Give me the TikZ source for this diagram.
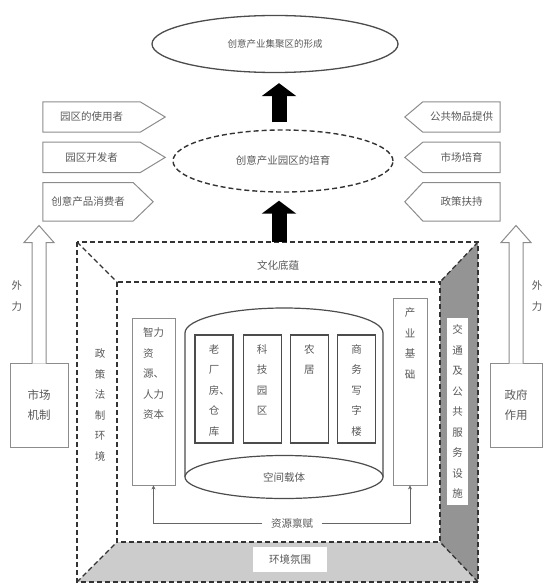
\documentclass[tikz,border=0pt]{standalone}
\usepackage{fontspec}
\newfontfamily\cjk{Noto Sans CJK SC}
\usetikzlibrary{positioning,arrows.meta,shapes.geometric}

\begin{document}
\begin{tikzpicture}[x=1pt,y=-1pt,
  lbl/.style={font=\cjk\fontsize{10.5}{13}\selectfont, text=black!65, inner sep=1pt},
  vlbl/.style={font=\cjk\fontsize{10.5}{20.5}\selectfont, text=black!65, align=center, inner sep=0pt},
  oval/.style={ellipse, draw=black!70, line width=1.3pt, inner sep=0pt},
  tag/.style={lbl, minimum height=30pt, inner sep=0pt},
  tagline/.style={draw=black!45, line width=1pt},
  side/.style={font=\cjk\fontsize{11.5}{20}\selectfont, text=black!65, align=center, draw=black!45, line width=1pt, minimum height=84pt},
  cell/.style={draw=black!70, line width=1.2pt, minimum width=38pt, minimum height=108pt, inner sep=0pt},
  col/.style={draw=black!45, line width=0.9pt, inner sep=0pt},
  framedash/.style={draw=black!80, line width=1.3pt, dash pattern=on 5pt off 3pt},
  bigarr/.style={line width=15pt, -{Triangle[width=34pt,length=13pt]}, black},
  hollow/.style={draw=black!45, line width=1pt, fill=white},
  arr/.style={-{Stealth[length=4pt,width=4pt]}, draw=black!60, line width=0.8pt}
]
\useasboundingbox (0,0) rectangle (545,585);

% outer and inner frame
\coordinate (otl) at (77,242);
\coordinate (otr) at (478,242);
\coordinate (obr) at (478,582);
\coordinate (obl) at (77,582);
\coordinate (itl) at (117,282);
\coordinate (itr) at (440,282);
\coordinate (ibr) at (440,542);
\coordinate (ibl) at (117,542);
\fill[black!20] (obl) -- (obr) -- (ibr) -- (ibl) -- cycle;
\fill[black!42] (otr) -- (obr) -- (ibr) -- (itr) -- cycle;
\draw[framedash] (otl) rectangle (obr);
\draw[framedash] (itl) rectangle (ibr);
\draw[framedash] (otl) -- (itl);
\draw[framedash] (otr) -- (itr);
\draw[framedash] (obr) -- (ibr);
\draw[framedash] (obl) -- (ibl);

\node[lbl] (culture) at (278,265) {文化底蕴};
\node[vlbl] (law) at (100,405) {政\\策\\法\\制\\环\\境};
\node[vlbl, fill=white, minimum width=21pt, minimum height=187pt] (traffic) at (457.5,411.5) {交\\通\\及\\公\\共\\服\\务\\设\\施};
\node[lbl, fill=white, minimum width=74pt, minimum height=25pt] (ambience) at (290,559.5) {环境氛围};

% top ellipses
\node[oval, lbl, font=\cjk\fontsize{9.5}{12}\selectfont, inner sep=0pt, minimum width=246pt, minimum height=57pt] (form) at (275,44) {创意产业集聚区的形成};
\node[oval, lbl, inner sep=0pt, draw=black!80, line width=1.4pt, dash pattern=on 5pt off 3pt, minimum width=220pt, minimum height=62pt] (nurture) at (283,161) {创意产业园区的培育};
\coordinate (mid) at (279,0);
\draw[bigarr, shorten <=7pt, shorten >=10pt] (nurture.north -| mid) -- (form.south -| mid);
\draw[bigarr, shorten >=8pt] (otl -| mid) -- (nurture.south -| mid);

% left tags
\node[tag, minimum width=97pt] (user) at (91.5,117) {园区的使用者};
\node[tag, minimum width=97pt, below=10pt of user] (dev) {园区开发者};
\node[tag, minimum width=90pt, minimum height=38pt, below=10pt of dev.south west, anchor=north west] (buyer) {创意产品消费者};
\draw[tagline] (user.north west) -- (user.north east) -- ([xshift=25pt]user.east) -- (user.south east) -- (user.south west) -- cycle;
\draw[tagline] (dev.north west) -- (dev.north east) -- ([xshift=25pt]dev.east) -- (dev.south east) -- (dev.south west) -- cycle;
\draw[tagline] (buyer.north west) -- (buyer.north east) -- ([xshift=20pt]buyer.east) -- (buyer.south east) -- (buyer.south west) -- cycle;

% right tags
\node[tag, minimum width=77pt] (goods) at (461.5,117) {公共物品提供};
\node[tag, minimum width=77pt, below=10pt of goods] (market) {市场培育};
\node[tag, minimum width=77pt, minimum height=38pt, below=10pt of market] (policy) {政策扶持};
\draw[tagline] (goods.north east) -- (goods.north west) -- ([xshift=-18pt]goods.west) -- (goods.south west) -- (goods.south east) -- cycle;
\draw[tagline] (market.north east) -- (market.north west) -- ([xshift=-18pt]market.west) -- (market.south west) -- (market.south east) -- cycle;
\draw[tagline] (policy.north east) -- (policy.north west) -- ([xshift=-18pt]policy.west) -- (policy.south west) -- (policy.south east) -- cycle;

% outside forces
\node[side, minimum width=58pt] (mkt) at (39,405) {市场\\机制};
\node[side, minimum width=52pt] (gov) at (516,405) {政府\\作用};
\draw[hollow] ([xshift=-7pt,yshift=-1pt]mkt.north) -- ++(0,-121) -- ++(-8,0) -- ++(15,-17) -- ++(15,17) -- ++(-8,0) -- ([xshift=7pt,yshift=-1pt]mkt.north);
\draw[hollow] ([xshift=-7pt,yshift=-1pt]gov.north) -- ++(0,-121) -- ++(-8,0) -- ++(15,-17) -- ++(15,17) -- ++(-8,0) -- ([xshift=7pt,yshift=-1pt]gov.north);
\node[vlbl] (forcel) at (17,296) {外\\力};
\node[vlbl] (forcer) at (537,296) {外\\力};

% space carrier
\draw[draw=black!70, line width=1.2pt] (185,477) -- (185,333) arc[start angle=180, end angle=360, x radius=99, y radius=25] -- (383,477);
\node[oval, lbl, line width=1.2pt, fill=white, minimum width=198pt, minimum height=43pt] (carrier) at (284,477) {空间载体};
\node[cell] (old) at (214,389) {};
\node[cell, right=9pt of old] (tech) {};
\node[cell, right=8pt of tech] (farm) {};
\node[cell, right=8pt of farm] (office) {};
\node[vlbl, below=10pt of old.north] (oldtx) {老\\厂\\房\rlap{、}\\仓\\库};
\node[vlbl, below=10pt of tech.north] (techtx) {科\\技\\园\\区};
\node[vlbl, below=10pt of farm.north] (farmtx) {农\\居};
\node[vlbl, below=10pt of office.north] (officetx) {商\\务\\写\\字\\楼};

% resources
\node[col, minimum width=43pt, minimum height=167pt] (wit) at (153.5,401.5) {};
\node[vlbl, align=left, below=10pt of wit.north] (wittx) {智力\\资\\源、\\人力\\资本};
\node[col, minimum width=34pt, minimum height=187pt] (base) at (410,391.5) {};
\node[vlbl, below=10pt of base.north] (basetx) {产\\业\\基\\础};
\node[lbl, inner xsep=9pt] (endow) at (292,523) {资源禀赋};
\draw[arr] (endow.west) -| (wit.south);
\draw[arr] (endow.east) -| (base.south);
\end{tikzpicture}
\end{document}
